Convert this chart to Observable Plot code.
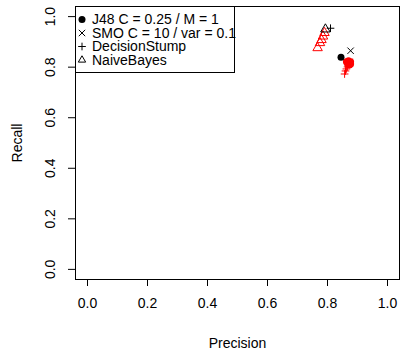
<!DOCTYPE html>
<html>
<head>
<meta charset="utf-8">
<script src="https://cdn.jsdelivr.net/npm/d3@7"></script>
<script src="https://cdn.jsdelivr.net/npm/@observablehq/plot@0.6"></script>
<style>
  html, body { margin: 0; padding: 0; background: #fff; }
  #chart svg { display: block; }
</style>
</head>
<body>
<div id="chart"></div>
<script>
// ---- data ----
const classifiers = ["J48 C = 0.25 / M = 1", "SMO C = 10 / var = 0.1", "DecisionStump", "NaiveBayes"];
const symbols = ["circle", "times", "plus", "triangle"];

// best configuration of each classifier (black)
const bestPrecision = [0.845, 0.877, 0.810, 0.793];
const bestRecall    = [0.839, 0.865, 0.954, 0.950];

// other configurations (red)
const j48Precision = [0.863, 0.870, 0.877, 0.867, 0.873, 0.877, 0.870];
const j48Recall    = [0.821, 0.825, 0.821, 0.813, 0.809, 0.813, 0.817];
const smoPrecision = [0.873, 0.870];
const smoRecall    = [0.821, 0.813];
const stumpPrecision = [0.857, 0.860, 0.863, 0.867];
const stumpRecall    = [0.773, 0.785, 0.793, 0.801];
const nbPrecision = [0.790, 0.785, 0.780, 0.775, 0.767];
const nbRecall    = [0.936, 0.922, 0.908, 0.896, 0.876];

const xTicks = [0, 0.2, 0.4, 0.6, 0.8, 1.0];
const yTicks = [0, 0.2, 0.4, 0.6, 0.8, 1.0];

const FONT = "'Liberation Sans', Arial, Helvetica, sans-serif";
const FS = 14;

const toRows = (px, ry) => px.map((p, i) => ({precision: p, recall: ry[i]}));
const best = classifiers.map((c, i) => ({name: c, symbol: symbols[i], precision: bestPrecision[i], recall: bestRecall[i]}));

const sizes = {circle: 3.5, times: 3, plus: 2.6, triangle: 3.5};
function dots(rows, sym, color) {
  const filled = sym === "circle";
  return Plot.dot(rows, {
    x: "precision", y: "recall", symbol: () => sym, r: sizes[sym],
    fill: filled ? color : "none",
    stroke: filled ? "none" : color,
    strokeWidth: 1
  });
}

const chart = Plot.plot({
  width: 401,
  height: 353,
  marginLeft: 75,
  marginRight: 2,
  marginTop: 6,
  marginBottom: 74,
  style: {fontFamily: FONT, fontSize: FS + "px", background: "#fff", overflow: "visible"},
  x: {domain: [-0.04, 1.04], label: null},
  y: {domain: [-0.04, 1.04], label: null},
  marks: [
    Plot.axisX({ticks: xTicks, tickSize: 7, tickPadding: 12, tickFormat: d => d.toFixed(1), fontSize: FS, stroke: "#000", color: "#000", label: null}),
    Plot.axisY({ticks: yTicks, tickSize: 7, tickFormat: () => "", stroke: "#000", label: null}),
    Plot.text(yTicks, {y: d => d, text: d => d.toFixed(1), frameAnchor: "left", dx: -25, rotate: -90, textAnchor: "middle", lineAnchor: "middle", fontSize: FS, fill: "#000"}),
    Plot.text(["Recall"], {text: d => d, frameAnchor: "left", dx: -58, rotate: -90, textAnchor: "middle", lineAnchor: "middle", fontSize: FS, fill: "#000"}),
    Plot.text(["Precision"], {text: d => d, frameAnchor: "bottom", dy: 64, textAnchor: "middle", lineAnchor: "middle", fontSize: FS, fill: "#000"}),
    Plot.frame({stroke: "#000", strokeWidth: 1}),
    dots(toRows(j48Precision, j48Recall), "circle", "#ff0000"),
    dots(toRows(smoPrecision, smoRecall), "times", "#ff0000"),
    dots(toRows(stumpPrecision, stumpRecall), "plus", "#ff0000"),
    dots(toRows(nbPrecision, nbRecall), "triangle", "#ff0000"),
    ...best.map(b => dots([b], b.symbol, "#000"))
  ]
});

document.getElementById("chart").appendChild(chart);

// ---- legend (top-left, inside the plot box) ----
const svg = d3.select(chart);
const lg = svg.append("g").attr("font-family", FONT).attr("font-size", FS).attr("text-anchor", "start");
const lx = 75, ly = 6, lw = 159, lh = 66, rowH = 13.5, firstRow = 19.5;
lg.append("rect").attr("x", lx + 0.5).attr("y", ly + 0.5).attr("width", lw).attr("height", lh)
  .attr("fill", "#fff").attr("stroke", "#000");
const symMap = {circle: d3.symbolCircle, times: d3.symbolTimes, plus: d3.symbolPlus, triangle: d3.symbolTriangle2};
classifiers.forEach((c, i) => {
  const cy = firstRow + i * rowH;
  const s = symbols[i];
  const r = sizes[s];
  const filled = s === "circle";
  lg.append("path")
    .attr("transform", `translate(82,${cy})`)
    .attr("d", d3.symbol(symMap[s], Math.PI * r * r)())
    .attr("fill", filled ? "#000" : "none")
    .attr("stroke", filled ? "none" : "#000")
    .attr("stroke-width", 1);
  lg.append("text").attr("x", 92).attr("y", cy).attr("dy", "0.35em").attr("text-anchor", "start").attr("fill", "#000").text(c);
});
</script>
</body>
</html>
